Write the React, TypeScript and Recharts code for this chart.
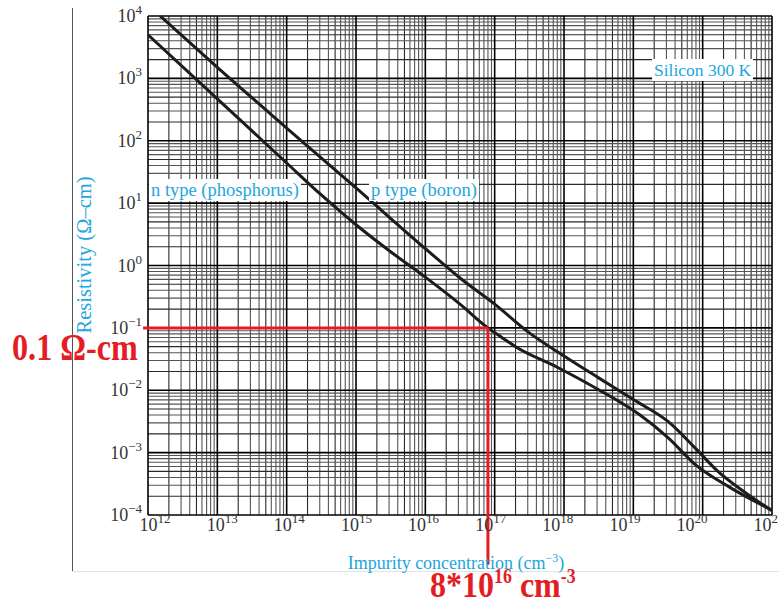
import React from 'react';
import { LineChart, Line, XAxis, YAxis, ReferenceLine } from 'recharts';

// n type (phosphorus): impurity concentration (cm^-3) and resistivity (ohm-cm)
const nConc = [1e12, 1e13, 1e14, 3.16e14, 1e15, 3.16e15, 1e16, 3.16e16, 8e16, 1.25e17, 2e17, 8e17, 3.16e18, 1.25e19, 3.16e19, 8e19, 2.5e20, 1e21];
const nRho = [5000, 470, 44, 13.5, 4.5, 1.66, 0.65, 0.24, 0.1, 0.071, 0.05, 0.0234, 0.0102, 0.004, 0.00174, 0.00063, 0.000275, 0.00012];

// p type (boron)
const pConc = [1.5e12, 1e13, 1e14, 1e15, 1e16, 3.16e16, 1e17, 3.16e17, 1e18, 3.16e18, 1e19, 3.16e19, 8e19, 1.6e20, 4e20, 1e21];
const pRho = [10000, 1500, 160, 17.5, 1.86, 0.63, 0.24, 0.083, 0.0355, 0.0158, 0.0071, 0.00316, 0.00115, 0.00052, 0.000234, 0.000117];

const xTicks = [1e12, 1e13, 1e14, 1e15, 1e16, 1e17, 1e18, 1e19, 1e20, 1e21];
const yTicks = [1e-4, 1e-3, 1e-2, 1e-1, 1, 1e1, 1e2, 1e3, 1e4];
const minorSteps = [2, 3, 4, 5, 6, 7, 8, 9];

// the marked point: 0.1 ohm-cm at 8e16 cm^-3
const markConc = 8e16;
const markRho = 0.1;

const nData = nConc.map((x, i) => ({ x, y: nRho[i] }));
const pData = pConc.map((x, i) => ({ x, y: pRho[i] }));

const minors = (decades: number[]) =>
  decades.slice(0, -1).flatMap((d) => minorSteps.map((m) => ({ v: d * m, m })));

const SERIF = "'Liberation Serif', 'Times New Roman', serif";
const CYAN = '#22a6dd';
const RED = '#e41d25';

const sup = (e: number) => (e < 0 ? '\u2212' + Math.abs(e) : String(e));

const XTick = ({ x, y, payload }: any) => {
  const e = Math.round(Math.log10(payload.value));
  const k = e - 12;
  const dx = e === 21 ? -3 : 7 - 2.2 * k;
  return (
    <text x={x + dx} y={y + 8} textAnchor="middle" fontFamily={SERIF} fontSize={18} fill="#333">
      10<tspan dy={-8} fontSize={13}>{sup(e)}</tspan>
    </text>
  );
};

const YTick = ({ x, y, payload }: any) => {
  const e = Math.round(Math.log10(payload.value));
  return (
    <text x={x + 2} y={y + 6} textAnchor="end" fontFamily={SERIF} fontSize={18} fill="#333">
      10<tspan dy={-8} fontSize={13}>{sup(e)}</tspan>
    </text>
  );
};

const minorColor = (m: number) => (m === 2 || m === 5 ? '#2a2a2a' : '#555');

const boxLabel = (left: number, top: number, text: string, size: number) => (
  <div
    style={{
      position: 'absolute',
      left,
      top,
      background: '#fff',
      color: CYAN,
      fontFamily: SERIF,
      fontSize: size,
      lineHeight: '22px',
      padding: '0 2px',
      whiteSpace: 'nowrap',
    }}
  >
    {text}
  </div>
);

export default function App() {
  return (
    <div
      style={{
        position: 'absolute',
        left: 0,
        top: 0,
        width: 779,
        height: 598,
        background: '#fff',
        overflow: 'hidden',
        fontFamily: SERIF,
      }}
    >
      <LineChart width={779} height={598} margin={{ top: 16, right: 7, bottom: 0, left: 0 }}>
        <XAxis
          type="number"
          dataKey="x"
          scale="log"
          domain={[1e12, 1e21]}
          ticks={xTicks}
          interval={0}
          allowDataOverflow
          height={83}
          tickLine={false}
          axisLine={false}
          tick={<XTick />}
        />
        <YAxis
          type="number"
          dataKey="y"
          scale="log"
          domain={[1e-4, 1e4]}
          ticks={yTicks}
          interval={0}
          allowDataOverflow
          width={148}
          tickLine={false}
          axisLine={false}
          tick={<YTick />}
        />

        {/* log paper grid */}
        {minors(xTicks).map(({ v, m }) => (
          <ReferenceLine key={'xm' + v} x={v} stroke={minorColor(m)} strokeWidth={1.1} />
        ))}
        {minors(yTicks).map(({ v, m }) => (
          <ReferenceLine key={'ym' + v} y={v} stroke={minorColor(m)} strokeWidth={1.1} />
        ))}
        {xTicks.map((v) => (
          <ReferenceLine key={'xd' + v} x={v} stroke="#000" strokeWidth={1.6} />
        ))}
        {yTicks.map((v) => (
          <ReferenceLine key={'yd' + v} y={v} stroke="#000" strokeWidth={1.6} />
        ))}

        <Line data={nData} dataKey="y" type="monotone" stroke="#1c1c1c" strokeWidth={3} dot={false} isAnimationActive={false} />
        <Line data={pData} dataKey="y" type="monotone" stroke="#1c1c1c" strokeWidth={3} dot={false} isAnimationActive={false} />

        {/* red read-off lines */}
        <ReferenceLine
          segment={[{ x: 8.5e11, y: markRho }, { x: markConc, y: markRho }]}
          stroke={RED}
          strokeWidth={3}
          ifOverflow="visible"
        />
        <ReferenceLine
          segment={[{ x: markConc, y: markRho }, { x: markConc, y: 1.6e-5 }]}
          stroke={RED}
          strokeWidth={3}
          ifOverflow="visible"
        />
      </LineChart>

      {/* frame rules */}
      <div style={{ position: 'absolute', left: 72, top: 8, width: 1, height: 564, background: '#555' }} />
      <div style={{ position: 'absolute', left: 72, top: 571, width: 707, height: 1, background: '#e2e2e2' }} />

      {boxLabel(149, 179, 'n type (phosphorus)', 18.5)}
      {boxLabel(369, 179, 'p type (boron)', 18.5)}
      {boxLabel(652, 59, 'Silicon 300 K', 17.5)}

      {/* axis titles */}
      <div
        style={{
          position: 'absolute',
          left: 84,
          top: 255,
          transform: 'translate(-50%, -50%) rotate(-90deg)',
          color: CYAN,
          fontSize: 20.5,
          whiteSpace: 'nowrap',
        }}
      >
        Resistivity (Ω–cm)
      </div>
      <div
        style={{
          position: 'absolute',
          left: 456,
          top: 562,
          transform: 'translate(-50%, -50%)',
          color: CYAN,
          fontSize: 18,
          whiteSpace: 'nowrap',
          lineHeight: 1,
        }}
      >
        Impurity concentration (cm<sup style={{ fontSize: 12 }}>−3</sup>)
      </div>

      {/* red annotations */}
      <div
        style={{
          position: 'absolute',
          left: 12,
          top: 329,
          color: RED,
          fontWeight: 'bold',
          fontSize: 37,
          lineHeight: 1,
          whiteSpace: 'nowrap',
          transform: 'scaleX(0.87)',
          transformOrigin: 'left top',
        }}
      >
        0.1 Ω-cm
      </div>
      <div
        style={{
          position: 'absolute',
          left: 430,
          top: 566,
          color: RED,
          fontWeight: 'bold',
          fontSize: 36,
          lineHeight: 1,
          whiteSpace: 'nowrap',
          transform: 'scaleX(0.89)',
          transformOrigin: 'left top',
        }}
      >
        8*10<sup style={{ fontSize: 20, verticalAlign: 14 }}>16</sup> cm<sup style={{ fontSize: 20, verticalAlign: 14 }}>-3</sup>
      </div>
    </div>
  );
}
